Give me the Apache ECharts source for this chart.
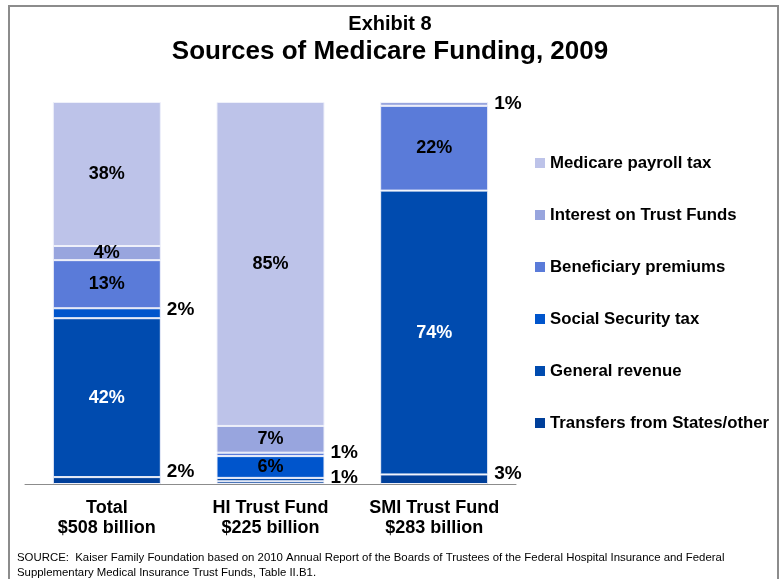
<!DOCTYPE html>
<html>
<head>
<meta charset="utf-8">
<script src="https://cdn.jsdelivr.net/npm/echarts@6/dist/echarts.min.js"></script>
<style>html,body{margin:0;padding:0;background:#fff;}#c{width:780px;height:579px;}</style>
</head>
<body>
<div id="c"></div>
<script>
// ---- data ----
const categoryNames = ['Total', 'HI Trust Fund', 'SMI Trust Fund'];
const categoryTotals = ['$508 billion', '$225 billion', '$283 billion'];
const seriesNames = ['Medicare payroll tax', 'Interest on Trust Funds', 'Beneficiary premiums', 'Social Security tax', 'General revenue', 'Transfers from States/other'];
const payroll = [37.7, 84.8, 0];
const interest = [3.7, 7.0, 1.0];
const premiums = [12.6, 0.9, 22.2];
const ssTax = [2.6, 5.7, 0];
const generalRevenue = [41.6, 0.9, 74.3];
const transfers = [1.8, 0.7, 2.5];
const payrollLabels = ['38%', '85%', ''];
const interestLabels = ['4%', '7%', '1%'];
const premiumsLabels = ['13%', '1%', '22%'];
const ssTaxLabels = ['2%', '6%', ''];
const generalLabels = ['42%', '1%', '74%'];
const transfersLabels = ['2%', '', '3%'];

// ---- styling ----
const FONT = 'Liberation Sans';
const colors = ['#BDC3E9', '#98A5DE', '#5A7BD9', '#0055CC', '#004BAF', '#003F9A'];
const insideColor = ['#000', '#000', '#000', '#000', '#fff', '#fff'];
// outside label placement: [seriesIndex-categoryIndex] -> vertical offset
const outside = {
  '1-2': 0,
  '2-1': -2,
  '3-0': -3,
  '4-1': -2,
  '5-0': -9,
  '5-2': -5
};

const values = [payroll, interest, premiums, ssTax, generalRevenue, transfers];
const labels = [payrollLabels, interestLabels, premiumsLabels, ssTaxLabels, generalLabels, transfersLabels];

const series = [];
for (let s = values.length - 1; s >= 0; s--) {
  const data = values[s].map((v, i) => {
    const txt = labels[s][i];
    const key = s + '-' + i;
    let label;
    if (!txt) {
      label = { show: false };
    } else if (key in outside) {
      label = {
        show: true, position: 'right', distance: 6, offset: [0, outside[key]],
        formatter: txt, color: '#000', fontSize: 19, fontWeight: 'bold', fontFamily: FONT
      };
    } else {
      label = {
        show: true, position: 'inside', formatter: txt,
        color: insideColor[s], fontSize: 18, fontWeight: 'bold', fontFamily: FONT
      };
    }
    return { value: v === 0 ? '-' : v, label: label };
  });
  series.push({
    name: seriesNames[s],
    type: 'bar',
    stack: 'total',
    barWidth: 108,
    data: data,
    itemStyle: { color: colors[s], borderColor: '#eef0fa', borderWidth: 1 },
    emphasis: { disabled: true },
    animation: false
  });
}

const chart = echarts.init(document.getElementById('c'), null, { renderer: 'canvas' });
chart.setOption({
  animation: false,
  title: [
    { text: 'Exhibit 8', left: 'center', top: 9, textStyle: { fontFamily: FONT, fontSize: 20, fontWeight: 'bold', color: '#000' } },
    { text: 'Sources of Medicare Funding, 2009', left: 'center', top: 34, textStyle: { fontFamily: FONT, fontSize: 26, fontWeight: 'bold', color: '#000' } }
  ],
  legend: {
    orient: 'vertical',
    left: 530,
    top: 148,
    itemWidth: 10,
    itemHeight: 10,
    itemGap: 32,
    icon: 'rect',
    data: seriesNames,
    selectedMode: false,
    itemStyle: { borderWidth: 0 },
    textStyle: { fontFamily: FONT, fontSize: 16.8, fontWeight: 'bold', color: '#000', lineHeight: 20 }
  },
  grid: { left: 25, right: 264, top: 102, bottom: 95 },
  xAxis: {
    type: 'category',
    data: categoryNames.map((n, i) => n + '\n' + categoryTotals[i]),
    axisLine: { lineStyle: { color: '#8c8c8c', width: 1 } },
    axisTick: { show: false },
    axisLabel: { fontFamily: FONT, fontSize: 18, fontWeight: 'bold', color: '#000', lineHeight: 20, margin: 14, interval: 0 }
  },
  yAxis: { type: 'value', min: 0, max: 100, show: false },
  series: series,
  graphic: [
    { type: 'polyline', shape: { points: [[9, 579], [9, 6], [778, 6], [778, 579]] }, style: { stroke: '#8c8c8c', lineWidth: 2, fill: null }, silent: true },
    { type: 'text', left: 17, top: 550, style: { text: 'SOURCE:  Kaiser Family Foundation based on 2010 Annual Report of the Boards of Trustees of the Federal Hospital Insurance and Federal\nSupplementary Medical Insurance Trust Funds, Table II.B1.', fontFamily: FONT, fontSize: 11.4, lineHeight: 15, fill: '#000' } }
  ]
});
</script>
</body>
</html>
